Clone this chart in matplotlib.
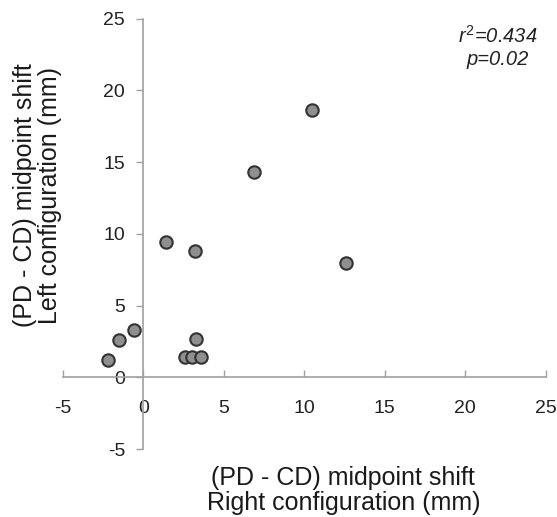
import matplotlib
matplotlib.use("Agg")
import matplotlib.pyplot as plt

plt.rcParams['font.family'] = ['Liberation Sans', 'DejaVu Sans']
plt.rcParams['mathtext.fontset'] = 'custom'
plt.rcParams['mathtext.rm'] = 'Liberation Sans'
plt.rcParams['mathtext.it'] = 'Liberation Sans:italic'
plt.rcParams['axes.unicode_minus'] = False

# midpoint shift, right vs left configuration (mm)
right_shift = [-2.2, -1.5, -0.6, 1.4, 3.2, 3.3, 2.6, 3.0, 3.6, 12.6, 10.5, 6.9]
left_shift = [1.2, 2.6, 3.3, 9.4, 8.8, 2.7, 1.4, 1.4, 1.4, 8.0, 18.6, 14.3]
ticks = [-5, 0, 5, 10, 15, 20, 25]
stats_text = "$r^2$=0.434\np=0.02"

fig = plt.figure(figsize=(5.57, 5.17), dpi=100)
ax = fig.add_axes([0.1126, 0.1315, 0.8672, 0.8325])

ax.scatter(right_shift, left_shift, s=80, color='#8f8f8f', edgecolor='#333333',
           linewidth=1.5, zorder=3)

ax.set_xlim(-5, 25)
ax.set_ylim(-5, 25)
ax.set_xticks(ticks)
ax.set_yticks(ticks)

ax.spines['left'].set_position(('data', 0))
ax.spines['bottom'].set_position(('data', 0))
ax.spines['top'].set_visible(False)
ax.spines['right'].set_visible(False)
for s in ['left', 'bottom']:
    ax.spines[s].set_color('#a0a0a0')
    ax.spines[s].set_linewidth(1.2)

ax.tick_params(axis='x', direction='in', length=5, width=1, color='#a0a0a0',
               pad=16, labelsize=14, labelcolor='#222222')
ax.tick_params(axis='y', direction='out', length=5, width=1, color='#a0a0a0',
               pad=8, labelsize=14, labelcolor='#222222')

ax.text(22.0, 23.0, stats_text, ha='center', va='center', fontsize=14.5,
        style='italic', color='#222222', linespacing=1.2)

ax.set_xlabel("(PD - CD) midpoint shift\nRight configuration (mm)", fontsize=18,
              color='#1a1a1a', linespacing=1.05)
ax.xaxis.set_label_coords(0.581, -0.04)
ax.set_ylabel("(PD - CD) midpoint shift\nLeft configuration (mm)", fontsize=18,
              color='#1a1a1a', linespacing=1.05)
ax.yaxis.set_label_coords(-0.002, 0.59)

fig.savefig("out.png", dpi=100)
